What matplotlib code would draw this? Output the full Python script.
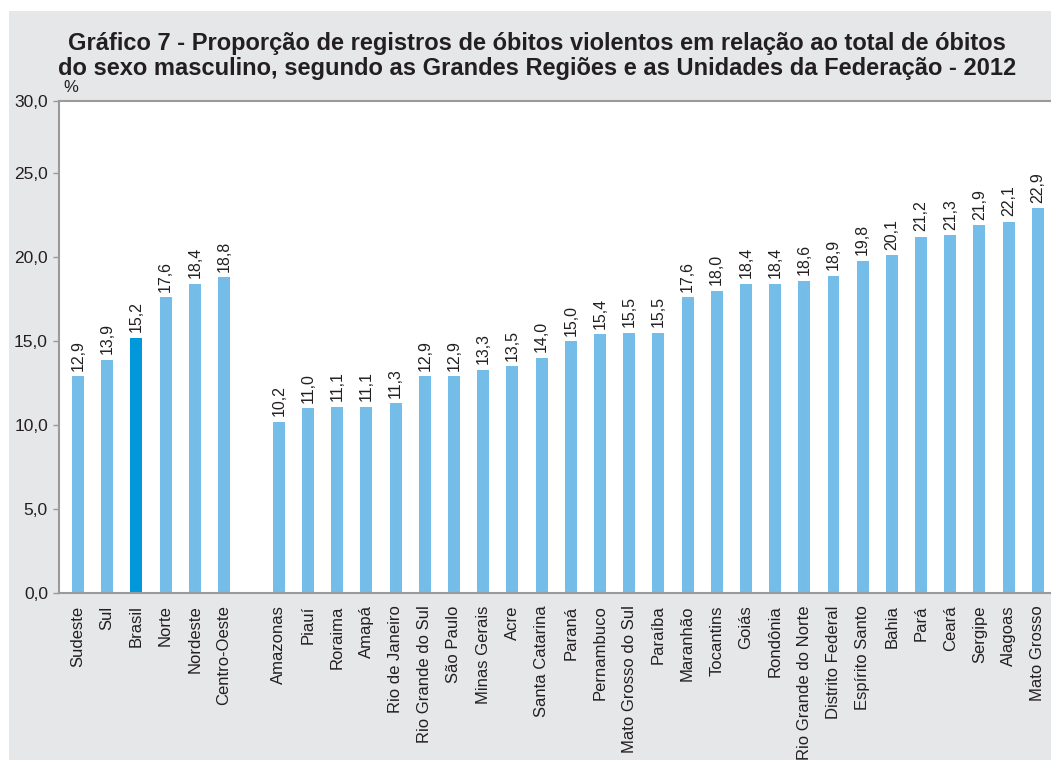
import matplotlib
matplotlib.use("Agg")
import matplotlib.pyplot as plt
from matplotlib.patches import Rectangle
import numpy as np

plt.rcParams['font.family'] = ['Liberation Sans', 'DejaVu Sans']

regions = ["Sudeste", "Sul", "Brasil", "Norte", "Nordeste", "Centro-Oeste"]
region_values = [12.9, 13.9, 15.2, 17.6, 18.4, 18.8]

states = ["Amazonas", "Piauí", "Roraima", "Amapá", "Rio de Janeiro",
          "Rio Grande do Sul", "São Paulo", "Minas Gerais", "Acre",
          "Santa Catarina", "Paraná", "Pernambuco", "Mato Grosso do Sul",
          "Paraíba", "Maranhão", "Tocantins", "Goiás", "Rondônia",
          "Rio Grande do Norte", "Distrito Federal", "Espírito Santo",
          "Bahia", "Pará", "Ceará", "Sergipe", "Alagoas", "Mato Grosso"]
state_values = [10.2, 11.0, 11.1, 11.1, 11.3, 12.9, 12.9, 13.3, 13.5, 14.0,
                15.0, 15.4, 15.5, 15.5, 17.6, 18.0, 18.4, 18.4, 18.6, 18.9,
                19.8, 20.1, 21.2, 21.3, 21.9, 22.1, 22.9]

yticks = [0, 5, 10, 15, 20, 25, 30]

title = ("Gráfico 7 - Proporção de registros de óbitos violentos em relação ao total de óbitos\n"
         "do sexo masculino, segundo as Grandes Regiões e as Unidades da Federação - 2012")

light = "#74bde9"
dark = "#0098da"
bg = "#e6e7e9"
spine_c = "#9a9a9a"
text_c = "#231f20"

labels = regions + states
values = region_values + state_values
gap = 1.88
x = np.concatenate([np.arange(len(regions)), len(regions) - 1 + gap + np.arange(len(states))])
colors = [dark if l == "Brasil" else light for l in labels]

fig = plt.figure(figsize=(10.51, 7.6), dpi=100)
fig.patch.set_facecolor("white")
fig.patches.append(Rectangle((9 / 1051, 0), 1, 1 - 11 / 760, transform=fig.transFigure,
                             facecolor=bg, edgecolor="none", zorder=-10))

ax = fig.add_axes([59 / 1051, 1 - 593 / 760, 1 - 59 / 1051, (593 - 101) / 760])
ax.set_zorder(1)
ax.set_facecolor("white")
ax.bar(x, values, width=0.41, color=colors, zorder=2)

for xi, v in zip(x, values):
    ax.annotate(f"{v:.1f}".replace(".", ","), (xi, v), xytext=(0, 4),
                textcoords="offset points", rotation=90, ha="center", va="bottom",
                fontsize=11.5, color=text_c)

# the reference's top frame line (labelled 30,0) sits slightly below the true 30 level
ytop = 29.3
ax.set_xlim(-0.65, x[-1] + 0.45)
ax.set_ylim(0, ytop)
ax.set_yticks(yticks[:-1] + [ytop])
ax.set_yticklabels([f"{t:.1f}".replace(".", ",") for t in yticks], fontsize=12.5, color=text_c)
ax.set_xticks(x)
ax.set_xticklabels(labels, rotation=90, fontsize=12, color=text_c, va="top", ha="center")
ax.tick_params(axis="x", length=0, pad=9)
ax.tick_params(axis="y", length=4, width=1, color=spine_c, pad=4)

for s in ["left", "bottom", "top"]:
    ax.spines[s].set_color(spine_c)
    ax.spines[s].set_linewidth(1.5)
ax.spines["right"].set_visible(False)

fig.text(537 / 1051, 1 - 56 / 760, title, ha="center", va="center", fontsize=17,
         fontweight="bold", color=text_c, linespacing=1.12)
fig.text(63 / 1051, 1 - 87 / 760, "%", ha="left", va="center", fontsize=12, color=text_c)

fig.savefig("out.png", dpi=100, facecolor=fig.get_facecolor())
